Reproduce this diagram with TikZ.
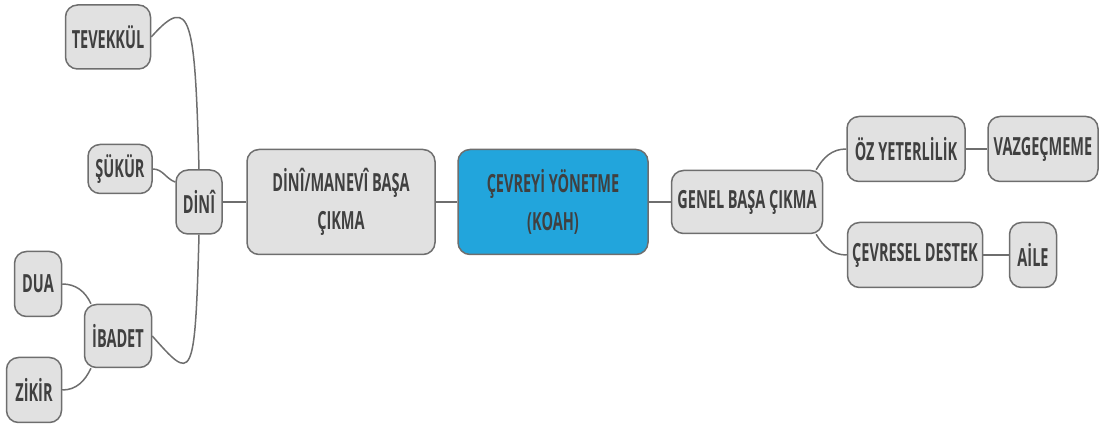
\documentclass[tikz,border=0pt]{standalone}
\usepackage{fontspec}
\usepackage{tikz}
\newfontfamily\mapfont{Open Sans}[FakeStretch=0.58]
\definecolor{boxgray}{HTML}{E1E1E1}
\definecolor{linegray}{HTML}{6E6E6E}
\definecolor{koahblue}{HTML}{22A5DC}
\definecolor{textgray}{HTML}{404040}
\tikzset{
  box/.style={draw=linegray,line width=1.5pt,fill=boxgray,rounded corners=12pt,
    align=center,inner sep=2pt,text=textgray,
    font=\mapfont\bfseries\fontsize{25}{38}\selectfont},
  link/.style={draw=linegray,line width=1.5pt}
}

\begin{document}
\begin{tikzpicture}[x=1pt,y=1pt]
  \useasboundingbox (0,0) rectangle (1101,427);
  \node[box,minimum width=85pt,minimum height=64pt] (tevekkul) at (108,390) {TEVEKKÜL};
  \node[box,minimum width=64pt,minimum height=49pt] (sukur) at (120,258) {ŞÜKÜR};
  \node[box,minimum width=46pt,minimum height=64pt] (dini) at (199,225) {DİNÎ};
  \node[box,minimum width=47pt,minimum height=65pt] (dua) at (38,143) {DUA};
  \node[box,minimum width=67pt,minimum height=63pt] (ibadet) at (118,91) {İBADET};
  \node[box,minimum width=55pt,minimum height=65pt] (zikir) at (34,37) {ZİKİR};
  \node[box,minimum width=188pt,minimum height=105pt] (manevi) at (341,225) {DİNÎ/MANEVÎ BAŞA\\ÇIKMA};
  \node[box,fill=koahblue,minimum width=190pt,minimum height=105pt] (koah) at (553,225) {ÇEVREYİ YÖNETME\\(KOAH)};
  \node[box,minimum width=151pt,minimum height=63pt] (genel) at (747,225) {GENEL BAŞA ÇIKMA};
  \node[box,minimum width=118pt,minimum height=65pt] (oz) at (906,278) {ÖZ YETERLİLİK};
  \node[box,minimum width=110pt,minimum height=65pt] (vazgec) at (1043,278) {VAZGEÇMEME};
  \node[box,minimum width=135pt,minimum height=65pt] (cevresel) at (915,172) {ÇEVRESEL DESTEK};
  \node[box,minimum width=47pt,minimum height=65pt] (aile) at (1033,172) {AİLE};

  \path[link]
  (dini.north) .. controls +(-4,150) and +(40,45) .. (tevekkul.east)
  (dini.south) .. controls +(-4,-150) and +(40,-45) .. (ibadet.east)
  (sukur.east) edge[out=0,in=160] (dini.140)
  (ibadet.130) edge[out=115,in=0] (dua.east)
  (ibadet.230) edge[out=245,in=0] (zikir.east)
  (dini.east) edge (manevi.west)
  (manevi.east) edge (koah.west)
  (koah.east) edge (genel.west)
  (genel.25) edge[out=60,in=180] (oz.west)
  (genel.-25) edge[out=-60,in=180] (cevresel.west)
  (oz.east) edge (vazgec.west)
  (cevresel.east) edge (aile.west);
\end{tikzpicture}
\end{document}
